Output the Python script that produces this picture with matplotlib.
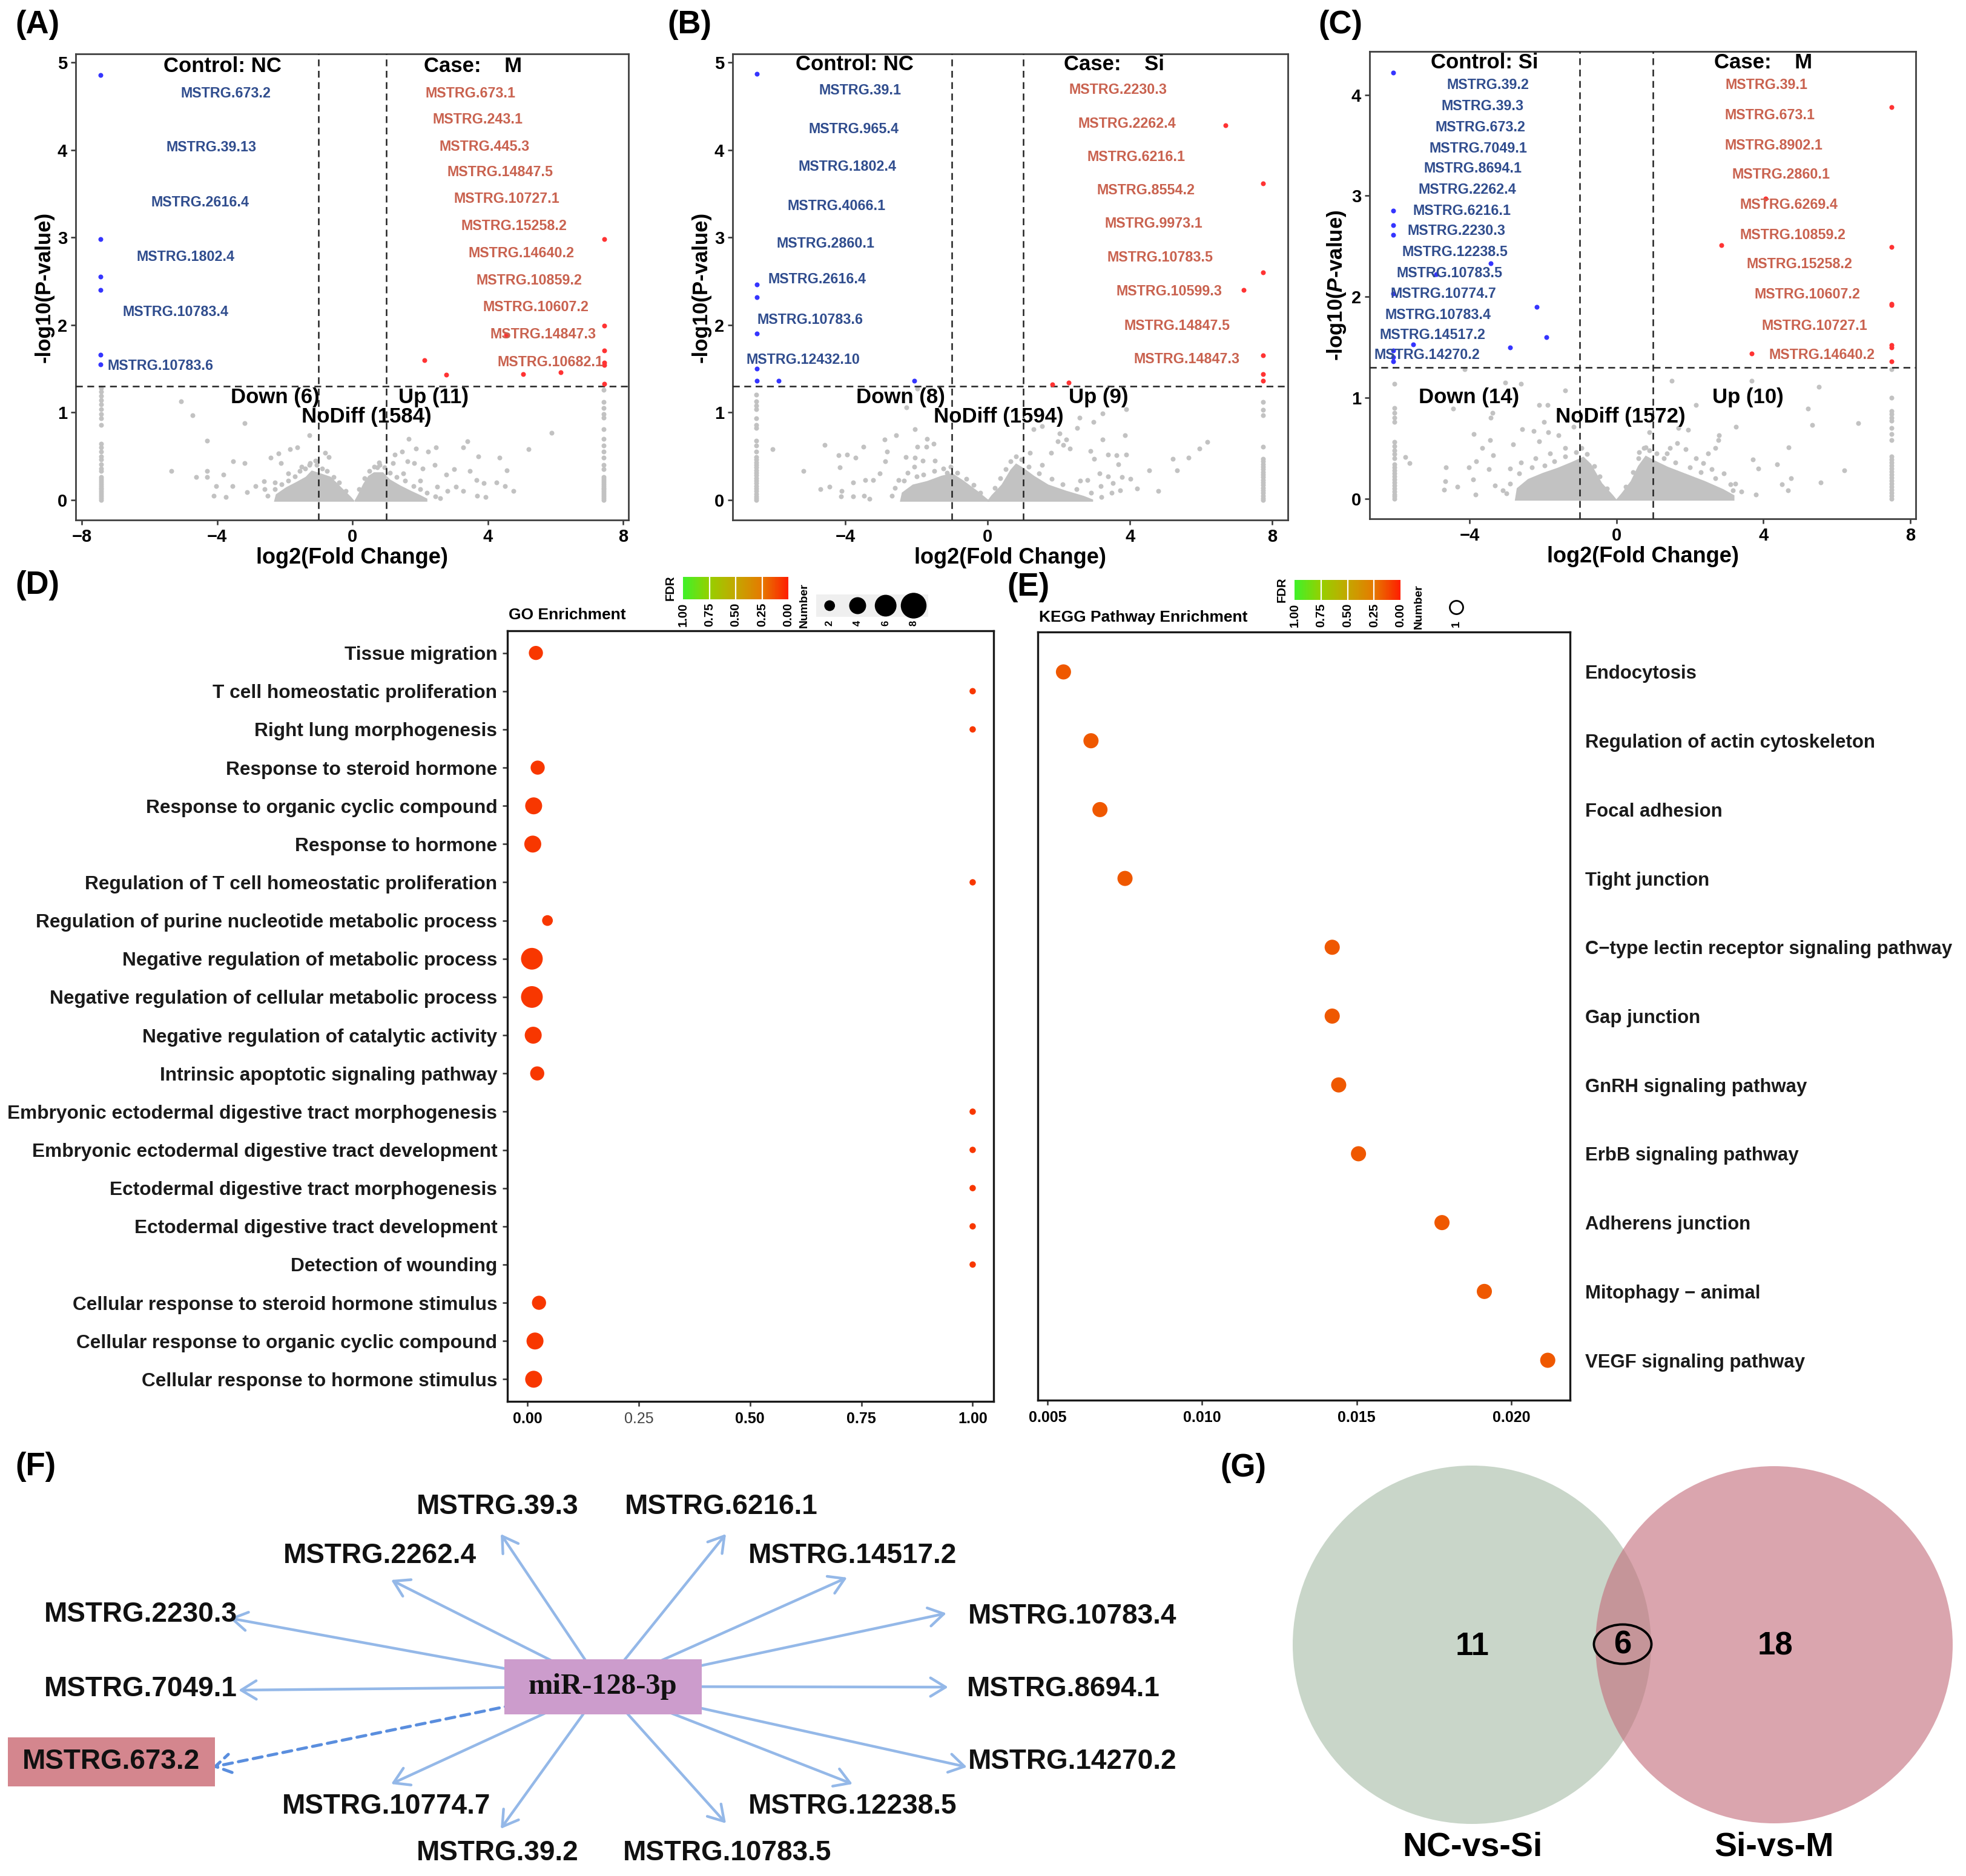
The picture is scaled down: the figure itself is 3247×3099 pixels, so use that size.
import numpy as np
import matplotlib
matplotlib.use('Agg')
import matplotlib.pyplot as plt
from matplotlib.patches import Polygon, Rectangle, Circle, Ellipse, FancyArrowPatch
from matplotlib.colors import LinearSegmentedColormap

# ---------------- data: volcano A (Control NC / Case M) ----------------
a_down = [(-7.45, 4.86), (-7.45, 2.98), (-7.45, 2.55), (-7.45, 2.40), (-7.45, 1.66), (-7.45, 1.55)]
a_up = [(7.45, 2.98), (7.45, 1.99), (7.45, 1.71), (7.45, 1.57), (7.45, 1.54), (7.45, 1.33),
        (2.12, 1.60), (2.78, 1.43), (5.05, 1.44), (6.15, 1.46), (4.55, 1.89)]
a_gray = [(-5.06, 1.13), (-4.72, 0.97), (-3.18, 0.88), (-4.30, 0.68), (-1.27, 0.74), (-5.35, 0.33),
          (-3.52, 0.44), (-3.18, 0.42), (-2.42, 0.48), (-2.18, 0.53), (-1.84, 0.58), (-1.63, 0.60),
          (-0.80, 0.54), (-0.70, 0.49), (-2.11, 0.42), (-4.62, 0.26), (-4.30, 0.33), (-4.30, 0.26),
          (-3.81, 0.29), (-4.03, 0.16), (-4.10, 0.05), (-3.74, 0.03), (-3.54, 0.16), (-3.12, 0.09),
          (-2.87, 0.16), (-2.61, 0.21), (-1.27, 0.40), (-2.6, 0.12), (-2.3, 0.20), (-1.9, 0.30),
          (-1.5, 0.38), (-1.1, 0.45), (1.67, 0.70), (3.40, 0.67), (3.27, 0.60), (2.47, 0.60),
          (1.88, 0.59), (2.24, 0.55), (3.73, 0.50), (4.35, 0.48), (5.21, 0.58), (5.88, 0.77),
          (4.56, 0.34), (4.76, 0.10), (4.51, 0.16), (4.25, 0.20), (3.89, 0.19), (3.66, 0.23),
          (3.47, 0.33), (3.01, 0.35), (2.77, 0.29), (2.44, 0.40), (2.08, 0.36), (1.62, 0.44),
          (1.82, 0.42), (1.26, 0.52), (1.46, 0.55), (3.94, 0.03), (3.68, 0.05), (3.27, 0.10),
          (3.06, 0.15), (0.79, 0.43), (0.74, 0.37), (1.2, 0.42), (1.5, 0.30), (2.0, 0.22),
          (2.5, 0.15), (2.8, 0.10),
          (-2.5, 0.05), (-2.3, 0.12), (-2.1, 0.18), (-1.9, 0.22), (-1.7, 0.27), (-1.55, 0.33),
          (-1.4, 0.36), (-1.25, 0.42), (-1.05, 0.40), (-0.9, 0.36), (-0.75, 0.33), (-0.55, 0.26),
          (-0.4, 0.20), (-0.2, 0.10), (0.2, 0.12), (0.35, 0.25), (0.5, 0.33), (0.65, 0.38),
          (0.8, 0.40), (0.95, 0.37), (1.1, 0.31), (1.3, 0.26), (1.55, 0.22), (1.8, 0.16),
          (2.0, 0.12), (2.2, 0.08), (2.45, 0.04), (2.6, 0.02)]
a_col_x = (-7.42, 7.42)
a_col_left = [1.28, 1.24, 1.19, 1.14, 1.09, 1.04, 0.98, 0.93, 0.86, 0.64, 0.60, 0.55, 0.50, 0.46, 0.41,
              0.36, 0.33, 0.26, 0.24, 0.22, 0.20, 0.18, 0.16, 0.14, 0.12, 0.10, 0.08, 0.06, 0.04, 0.02, 0.0]
a_col_right = [1.26, 1.12, 1.05, 0.98, 0.94, 0.81, 0.70, 0.62, 0.55, 0.48, 0.40, 0.35, 0.26, 0.24, 0.22,
               0.20, 0.18, 0.16, 0.14, 0.12, 0.10, 0.08, 0.06, 0.04, 0.02, 0.0]
a_core_left = [(-2.30, -0.015), (-2.25, 0.06), (-1.95, 0.14), (-1.65, 0.20), (-1.37, 0.26), (-1.2, 0.33),
               (-0.96, 0.30), (-0.65, 0.26), (-0.34, 0.14), (-0.05, 0.03), (0.05, -0.015)]
a_core_right = [(0.07, -0.015), (0.18, 0.06), (0.33, 0.18), (0.48, 0.27), (0.64, 0.31), (0.90, 0.31),
                (1.10, 0.23), (1.41, 0.16), (1.72, 0.10), (2.0, 0.05), (2.2, 0.01), (2.2, -0.015)]
a_down_names = ['MSTRG.673.2', 'MSTRG.39.13', 'MSTRG.2616.4', 'MSTRG.1802.4', 'MSTRG.10783.4', 'MSTRG.10783.6']
a_down_lab = [(-3.75, 4.65), (-4.18, 4.03), (-4.50, 3.40), (-4.93, 2.78), (-5.23, 2.15), (-5.67, 1.53)]
a_up_names = ['MSTRG.673.1', 'MSTRG.243.1', 'MSTRG.445.3', 'MSTRG.14847.5', 'MSTRG.10727.1', 'MSTRG.15258.2',
              'MSTRG.14640.2', 'MSTRG.10859.2', 'MSTRG.10607.2', 'MSTRG.14847.3', 'MSTRG.10682.1']
a_up_lab = [(3.49, 4.65), (3.70, 4.35), (3.91, 4.04), (4.36, 3.75), (4.56, 3.44), (4.78, 3.13),
            (5.00, 2.82), (5.22, 2.51), (5.42, 2.20), (5.64, 1.89), (5.85, 1.57)]
a_groups = ('NC', 'M')
a_counts = [6, 11, 1584]

# ---------------- data: volcano B (Control NC / Case Si) ----------------
b_down = [(-6.49, 4.87), (-6.49, 2.46), (-6.49, 2.32), (-6.49, 1.90), (-6.49, 1.50), (-6.49, 1.36),
          (-5.88, 1.36), (-2.07, 1.36)]
b_up = [(7.74, 3.62), (7.74, 2.60), (7.74, 1.65), (7.74, 1.44), (7.74, 1.36), (6.68, 4.28),
        (7.20, 2.40), (1.81, 1.32), (2.27, 1.34)]
b_gray = [(-1.98, 1.27), (-2.28, 1.06), (-2.04, 0.81), (-2.57, 0.74), (-2.90, 0.69), (-1.70, 0.70),
          (-4.58, 0.63), (-6.04, 0.58), (-3.50, 0.61), (-2.83, 0.55), (-1.98, 0.61), (-1.72, 0.61),
          (-1.52, 0.64), (-4.19, 0.51), (-3.95, 0.52), (-3.71, 0.48), (-4.15, 0.37), (-5.17, 0.33),
          (-2.30, 0.49), (-2.04, 0.48), (-1.82, 0.45), (-1.48, 0.45), (-2.88, 0.44), (-2.06, 0.38),
          (-3.03, 0.30), (-3.45, 0.23), (-3.22, 0.23), (-3.78, 0.20), (-4.44, 0.15), (-4.70, 0.12),
          (-4.10, 0.10), (-4.12, 0.04), (-3.78, 0.04), (-3.47, 0.05), (-3.32, 0.01), (-2.25, 0.31),
          (-2.50, 0.23), (-1.14, 0.31), (3.23, 0.99), (2.97, 0.89), (2.58, 0.94), (2.52, 0.82),
          (2.02, 0.76), (1.29, 0.81), (1.53, 0.84), (3.89, 1.04), (3.86, 0.74), (3.23, 0.69),
          (2.21, 0.69), (1.97, 0.67), (2.89, 0.56), (3.38, 0.52), (3.62, 0.51), (3.89, 0.52),
          (3.67, 0.41), (2.99, 0.47), (4.54, 0.34), (5.20, 0.47), (5.64, 0.48), (5.32, 0.34),
          (5.95, 0.59), (6.17, 0.66), (4.79, 0.10), (4.20, 0.13), (3.77, 0.26), (4.01, 0.24),
          (3.38, 0.27), (3.14, 0.30), (3.52, 0.19), (3.72, 0.11), (2.60, 0.22), (2.80, 0.23),
          (3.18, 0.16), (3.48, 0.08), (2.12, 0.63), (2.31, 0.59), (1.78, 0.54), (1.53, 0.40),
          (1.19, 0.54),
          (-2.7, 0.05), (-2.6, 0.14), (-2.35, 0.22), (-2.0, 0.27), (-1.8, 0.29), (-1.5, 0.33),
          (-1.25, 0.36), (-1.05, 0.38), (-0.85, 0.31), (-0.6, 0.24), (-0.4, 0.17), (-0.2, 0.08),
          (0.2, 0.14), (0.35, 0.25), (0.5, 0.35), (0.65, 0.44), (0.8, 0.50), (0.95, 0.46),
          (1.15, 0.38), (1.45, 0.30), (1.8, 0.24), (2.1, 0.18), (2.5, 0.12), (2.9, 0.08), (3.2, 0.03)]
b_col_x = (-6.50, 7.74)
b_col_left = [1.20, 1.13, 1.08, 1.04, 0.93, 0.86, 0.82, 0.68, 0.62, 0.55, 0.49, 0.46, 0.43, 0.40, 0.37,
              0.34, 0.31, 0.28, 0.25, 0.22, 0.19, 0.16, 0.13, 0.10, 0.07, 0.04, 0.02, 0.0]
b_col_right = [1.12, 1.03, 0.97, 0.61, 0.47, 0.44, 0.41, 0.38, 0.35, 0.32, 0.29, 0.26, 0.23, 0.20, 0.17,
               0.14, 0.11, 0.08, 0.05, 0.02, 0.0]
b_core_left = [(-2.45, -0.015), (-2.4, 0.08), (-2.1, 0.17), (-1.7, 0.21), (-1.3, 0.27), (-1.0, 0.30),
               (-0.7, 0.22), (-0.3, 0.10), (0.0, 0.0), (0.05, -0.015)]
b_core_right = [(0.0, -0.015), (0.12, 0.05), (0.4, 0.17), (0.65, 0.34), (0.8, 0.41), (1.0, 0.36),
                (1.3, 0.27), (1.7, 0.17), (2.2, 0.10), (2.7, 0.04), (2.95, 0.0), (2.95, -0.015)]
b_down_names = ['MSTRG.39.1', 'MSTRG.965.4', 'MSTRG.1802.4', 'MSTRG.4066.1', 'MSTRG.2860.1', 'MSTRG.2616.4',
                'MSTRG.10783.6', 'MSTRG.12432.10']
b_down_lab = [(-3.59, 4.68), (-3.77, 4.24), (-3.94, 3.81), (-4.25, 3.36), (-4.55, 2.93), (-4.80, 2.52),
              (-4.99, 2.06), (-5.18, 1.60)]
b_up_names = ['MSTRG.2230.3', 'MSTRG.2262.4', 'MSTRG.6216.1', 'MSTRG.8554.2', 'MSTRG.9973.1', 'MSTRG.10783.5',
              'MSTRG.10599.3', 'MSTRG.14847.5', 'MSTRG.14847.3']
b_up_lab = [(3.66, 4.69), (3.92, 4.30), (4.17, 3.92), (4.44, 3.54), (4.67, 3.16), (4.84, 2.77),
            (5.10, 2.38), (5.33, 1.99), (5.59, 1.61)]
b_groups = ('NC', 'Si')
b_counts = [8, 9, 1594]

# ---------------- data: volcano C (Control Si / Case M) ----------------
c_down = [(-6.07, 4.22), (-6.07, 2.85), (-6.07, 2.71), (-6.07, 2.61), (-6.07, 2.03), (-6.07, 1.40),
          (-6.07, 1.36), (-3.43, 2.33), (-4.91, 2.22), (-2.17, 1.90), (-1.91, 1.60), (-5.54, 1.53),
          (-2.89, 1.50), (-6.07, 1.47)]
c_up = [(7.49, 3.88), (7.49, 2.49), (7.49, 1.93), (7.49, 1.92), (7.49, 1.52), (7.49, 1.50), (7.49, 1.36),
        (2.86, 2.51), (3.69, 1.44), (4.06, 2.97)]
c_gray = [(-4.14, 1.28), (-3.02, 1.15), (-2.60, 1.14), (-1.40, 1.07), (-2.10, 0.93), (-1.88, 0.93),
          (-4.44, 0.89), (-3.38, 0.85), (-3.42, 0.80), (-1.98, 0.76), (-1.17, 0.71), (-2.57, 0.69),
          (-2.26, 0.67), (-1.86, 0.66), (-3.88, 0.64), (-1.57, 0.63), (-3.44, 0.58), (-3.66, 0.50),
          (-2.81, 0.54), (-2.10, 0.57), (-5.75, 0.41), (-5.63, 0.35), (-3.36, 0.43), (-3.82, 0.37),
          (-4.64, 0.31), (-4.01, 0.31), (-3.47, 0.29), (-4.66, 0.17), (-4.69, 0.09), (-4.33, 0.12),
          (-3.90, 0.19), (-3.83, 0.04), (-3.30, 0.13), (-3.09, 0.08), (-2.9, 0.30), (-2.6, 0.36),
          (-2.2, 0.40), (-1.8, 0.45), (-1.4, 0.50), (1.51, 1.17), (3.69, 1.17), (5.51, 1.11),
          (2.17, 0.93), (5.21, 0.89), (5.33, 0.73), (6.58, 0.75), (3.26, 0.71), (1.68, 0.70),
          (1.95, 0.68), (0.89, 0.66), (2.79, 0.63), (2.77, 0.58), (1.65, 0.55), (1.89, 0.49),
          (2.69, 0.50), (4.69, 0.51), (3.72, 0.39), (3.86, 0.30), (4.37, 0.34), (6.20, 0.28),
          (4.76, 0.20), (5.56, 0.16), (4.50, 0.14), (4.67, 0.08), (3.79, 0.04), (2.49, 0.45),
          (2.17, 0.40), (2.36, 0.35), (2.60, 0.29), (2.93, 0.25), (3.24, 0.15), (3.17, 0.08),
          (1.46, 0.50), (1.37, 0.45), (0.61, 0.46), (0.80, 0.51),
          (-3.0, 0.05), (-2.9, 0.15), (-2.65, 0.25), (-2.3, 0.31), (-1.95, 0.33), (-1.7, 0.37),
          (-1.4, 0.42), (-1.1, 0.46), (-0.95, 0.50), (-0.8, 0.44), (-0.6, 0.32), (-0.45, 0.22),
          (-0.25, 0.10), (0.25, 0.12), (0.45, 0.26), (0.6, 0.40), (0.75, 0.50), (0.9, 0.48),
          (1.1, 0.45), (1.3, 0.40), (1.6, 0.36), (2.0, 0.31), (2.3, 0.26), (2.7, 0.20), (3.1, 0.14),
          (3.4, 0.07)]
c_col_x = (-6.05, 7.49)
c_col_left = [1.14, 0.90, 0.85, 0.80, 0.76, 0.56, 0.52, 0.48, 0.44, 0.40, 0.34, 0.31, 0.28, 0.25, 0.22,
              0.19, 0.16, 0.13, 0.10, 0.07, 0.04, 0.02, 0.0]
c_col_right = [1.28, 1.00, 0.87, 0.84, 0.80, 0.77, 0.70, 0.64, 0.58, 0.42, 0.39, 0.36, 0.33, 0.30, 0.27,
               0.24, 0.21, 0.18, 0.15, 0.12, 0.09, 0.06, 0.03, 0.0]
c_core_left = [(-2.75, -0.015), (-2.7, 0.10), (-2.4, 0.19), (-2.0, 0.25), (-1.6, 0.30), (-1.2, 0.36),
               (-0.9, 0.41), (-0.7, 0.34), (-0.4, 0.15), (-0.1, 0.03), (0.0, -0.015)]
c_core_right = [(0.0, -0.015), (0.15, 0.05), (0.4, 0.17), (0.6, 0.32), (0.8, 0.42), (1.0, 0.38),
                (1.4, 0.31), (1.9, 0.24), (2.4, 0.17), (2.9, 0.09), (3.2, 0.03), (3.2, -0.015)]
c_down_names = ['MSTRG.39.2', 'MSTRG.39.3', 'MSTRG.673.2', 'MSTRG.7049.1', 'MSTRG.8694.1', 'MSTRG.2262.4',
                'MSTRG.6216.1', 'MSTRG.2230.3', 'MSTRG.12238.5', 'MSTRG.10783.5', 'MSTRG.10774.7',
                'MSTRG.10783.4', 'MSTRG.14517.2', 'MSTRG.14270.2']
c_down_lab = [(-3.49, 4.10), (-3.65, 3.89), (-3.70, 3.68), (-3.76, 3.47), (-3.91, 3.27), (-4.06, 3.06),
              (-4.21, 2.85), (-4.35, 2.65), (-4.40, 2.44), (-4.55, 2.23), (-4.71, 2.03), (-4.86, 1.82),
              (-5.01, 1.62), (-5.15, 1.42)]
c_up_names = ['MSTRG.39.1', 'MSTRG.673.1', 'MSTRG.8902.1', 'MSTRG.2860.1', 'MSTRG.6269.4', 'MSTRG.10859.2',
              'MSTRG.15258.2', 'MSTRG.10607.2', 'MSTRG.10727.1', 'MSTRG.14640.2']
c_up_lab = [(4.09, 4.10), (4.18, 3.80), (4.29, 3.50), (4.49, 3.21), (4.70, 2.91), (4.80, 2.61),
            (4.99, 2.32), (5.20, 2.02), (5.39, 1.71), (5.60, 1.42)]
c_groups = ('Si', 'M')
c_counts = [14, 10, 1572]

# ---------------- data: GO enrichment (D) ----------------
go_terms = ['Tissue migration', 'T cell homeostatic proliferation', 'Right lung morphogenesis',
            'Response to steroid hormone', 'Response to organic cyclic compound', 'Response to hormone',
            'Regulation of T cell homeostatic proliferation', 'Regulation of purine nucleotide metabolic process',
            'Negative regulation of metabolic process', 'Negative regulation of cellular metabolic process',
            'Negative regulation of catalytic activity', 'Intrinsic apoptotic signaling pathway',
            'Embryonic ectodermal digestive tract morphogenesis', 'Embryonic ectodermal digestive tract development',
            'Ectodermal digestive tract morphogenesis', 'Ectodermal digestive tract development',
            'Detection of wounding', 'Cellular response to steroid hormone stimulus',
            'Cellular response to organic cyclic compound', 'Cellular response to hormone stimulus']
go_x = [0.019, 1.0, 1.0, 0.023, 0.014, 0.012, 1.0, 0.045, 0.010, 0.010,
        0.013, 0.022, 1.0, 1.0, 1.0, 1.0, 1.0, 0.026, 0.017, 0.014]
go_number = [3, 1, 1, 3, 4, 4, 1, 2, 6, 6, 4, 3, 1, 1, 1, 1, 1, 3, 4, 4]
go_fdr = [0.07] * 20
go_legend_numbers = [2, 4, 6, 8]

# ---------------- data: KEGG enrichment (E) ----------------
kegg_terms = ['Endocytosis', 'Regulation of actin cytoskeleton', 'Focal adhesion', 'Tight junction',
              'C\u2212type lectin receptor signaling pathway', 'Gap junction', 'GnRH signaling pathway',
              'ErbB signaling pathway', 'Adherens junction', 'Mitophagy \u2212 animal', 'VEGF signaling pathway']
kegg_x = [0.00552, 0.00641, 0.00670, 0.00751, 0.01421, 0.01421, 0.01442, 0.01506, 0.01776, 0.01913, 0.02118]
kegg_number = [1] * 11
kegg_fdr = [0.16] * 11
fdr_ticks = [1.00, 0.75, 0.50, 0.25, 0.00]

# ---------------- data: miRNA target network (F) ----------------
hub_name = 'miR-128-3p'
hub_xy = (996, 436)
targets = ['MSTRG.39.3', 'MSTRG.6216.1', 'MSTRG.2262.4', 'MSTRG.14517.2', 'MSTRG.2230.3', 'MSTRG.10783.4',
           'MSTRG.7049.1', 'MSTRG.8694.1', 'MSTRG.673.2', 'MSTRG.14270.2', 'MSTRG.10774.7', 'MSTRG.12238.5',
           'MSTRG.39.2', 'MSTRG.10783.5']
target_xy = [(822, 139), (1191, 139), (627, 220), (1408, 220), (232, 317), (1771, 320), (232, 440),
             (1756, 440), (184, 560), (1771, 560), (638, 634), (1408, 634), (822, 711), (1201, 711)]
target_tip = [(827, 184), (1199, 184), (646, 260), (1399, 256), (379, 323), (1563, 315), (394, 442),
              (1566, 437), (351, 569), (1597, 569), (646, 597), (1408, 597), (827, 671), (1199, 662)]
target_dashed = ['MSTRG.673.2']

# ---------------- data: Venn (G) ----------------
venn_names = ['NC-vs-Si', 'Si-vs-M']
venn_counts = [11, 6, 18]   # only left, shared, only right

# ---------------- style ----------------
W, H = 3247, 3099
DPI = 200
GRAY = '#c2c2c2'
BLUE = '#3535ff'
RED = '#ff3333'
BLUE_TXT = '#304d8e'
RED_TXT = '#c9624f'

plt.rcParams['font.family'] = ['Liberation Sans', 'DejaVu Sans']
plt.rcParams['font.weight'] = 'bold'
plt.rcParams['axes.labelweight'] = 'bold'
plt.rcParams['mathtext.fontset'] = 'custom'
plt.rcParams['mathtext.it'] = 'Liberation Sans:italic:bold'
plt.rcParams['mathtext.rm'] = 'Liberation Sans:bold'

fdr_cmap = LinearSegmentedColormap.from_list(
    'fdr', [(0, '#ff1e00'), (0.25, '#e67a00'), (0.5, '#c4a800'), (0.75, '#96d000'), (1, '#3ff22a')])


def rect(l, t, r, b):
    # pixel box of the target image -> figure fraction
    return [l / W, 1 - b / H, (r - l) / W, (b - t) / H]


def area(d_px):
    return (d_px * 72.0 / DPI) ** 2


def go_size(n):
    return area(17.5 * np.sqrt(n) - 7)


fig = plt.figure(figsize=(W / DPI, H / DPI), dpi=DPI)


def volcano(box, xlim, ylim, xticks, yticks, gray, col_x, col_left, col_right, core_left, core_right,
            down, up, down_names, down_lab, up_names, up_lab, groups, counts, head_xy, count_xy, ylabel):
    ax = fig.add_axes(rect(*box))
    for core in (core_left, core_right):
        ax.add_patch(Polygon(core, closed=True, fc=GRAY, ec=GRAY, lw=0.6, zorder=2))
    gx, gy = zip(*gray)
    ax.scatter(gx, gy, s=area(8), c=GRAY, lw=0, zorder=2)
    ax.scatter([col_x[0]] * len(col_left), col_left, s=area(8), c=GRAY, lw=0, zorder=2)
    ax.scatter([col_x[1]] * len(col_right), col_right, s=area(8), c=GRAY, lw=0, zorder=2)
    dx, dy = zip(*down)
    ax.scatter(dx, dy, s=area(8), c=BLUE, lw=0, zorder=4)
    ux, uy = zip(*up)
    ax.scatter(ux, uy, s=area(8), c=RED, lw=0, zorder=4)
    for v in (-1, 1):
        ax.axvline(v, color='#222222', lw=0.9, dashes=(4.5, 3), zorder=3)
    ax.axhline(-np.log10(0.05), color='#222222', lw=0.9, dashes=(4.5, 3), zorder=3)
    for name, (x, y) in zip(down_names, down_lab):
        ax.text(x, y, name, color=BLUE_TXT, fontsize=8.4, ha='center', va='center', zorder=5)
    for name, (x, y) in zip(up_names, up_lab):
        ax.text(x, y, name, color=RED_TXT, fontsize=8.4, ha='center', va='center', zorder=5)
    ax.text(head_xy[0], head_xy[2], 'Control: ' + groups[0], fontsize=12.5, ha='center', va='center')
    ax.text(head_xy[1], head_xy[2], 'Case:    ' + groups[1], fontsize=12.5, ha='center', va='center')
    ax.text(count_xy[0][0], count_xy[0][1], 'Down (%d)' % counts[0], fontsize=12.5, ha='center', va='center', zorder=5)
    ax.text(count_xy[1][0], count_xy[1][1], 'Up (%d)' % counts[1], fontsize=12.5, ha='center', va='center', zorder=5)
    ax.text(count_xy[2][0], count_xy[2][1], 'NoDiff (%d)' % counts[2], fontsize=12.5, ha='center', va='center', zorder=5)
    ax.set_xlim(*xlim)
    ax.set_ylim(*ylim)
    ax.set_xticks(xticks)
    ax.set_yticks(yticks)
    ax.tick_params(labelsize=10.5, length=3, width=0.9, color='#333333', pad=2)
    for s in ax.spines.values():
        s.set_color('#404040')
        s.set_linewidth(1.0)
    ax.set_xlabel('log2(Fold Change)', fontsize=13, labelpad=1)
    ax.set_ylabel(ylabel, fontsize=12.5, labelpad=2)
    return ax


volcano((125, 89, 1038, 859), (-8.18, 8.16), (-0.23, 5.1), [-8, -4, 0, 4, 8], range(6),
        a_gray, a_col_x, a_col_left, a_col_right, a_core_left, a_core_right, a_down, a_up,
        a_down_names, a_down_lab, a_up_names, a_up_lab, a_groups, a_counts,
        (-3.84, 3.57, 4.96), [(-2.28, 1.17), (2.40, 1.17), (0.42, 0.95)], '-log10(P-value)')
volcano((1210, 89, 2127, 859), (-7.17, 8.44), (-0.23, 5.1), [-4, 0, 4, 8], range(6),
        b_gray, b_col_x, b_col_left, b_col_right, b_core_left, b_core_right, b_down, b_up,
        b_down_names, b_down_lab, b_up_names, b_up_lab, b_groups, b_counts,
        (-3.74, 3.55, 4.98), [(-2.44, 1.17), (3.11, 1.17), (0.30, 0.95)], '-log10(P-value)')
volcano((2262, 85, 3164, 857), (-6.72, 8.15), (-0.20, 4.43), [-4, 0, 4, 8], range(5),
        c_gray, c_col_x, c_col_left, c_col_right, c_core_left, c_core_right, c_down, c_up,
        c_down_names, c_down_lab, c_up_names, c_up_lab, c_groups, c_counts,
        (-3.59, 4.0, 4.32), [(-4.02, 1.0), (3.58, 1.0), (0.11, 0.81)], '-log10($\\mathit{P}$-value)')

# ---------------- D: GO enrichment ----------------
axd = fig.add_axes(rect(838, 1042, 1641, 2315))
axd.scatter(go_x, range(len(go_terms)), s=[go_size(n) for n in go_number], c=go_fdr,
            cmap=fdr_cmap, vmin=0, vmax=1, lw=0, zorder=3, clip_on=False)
axd.set_ylim(len(go_terms) - 0.42, -0.58)
axd.set_yticks(range(len(go_terms)))
axd.set_yticklabels(go_terms, fontsize=11.4, color='#1a1a1a')
axd.set_xlim(-0.045, 1.047)
axd.set_xticks([0, 0.25, 0.5, 0.75, 1.0])
axd.set_xticklabels(['0.00', '0.25', '0.50', '0.75', '1.00'], fontsize=9)
axd.get_xticklabels()[1].set_fontweight('normal')
axd.get_xticklabels()[1].set_color('#444444')
axd.tick_params(length=3, width=0.9, color='#333333', pad=3)
for s in axd.spines.values():
    s.set_color('#1a1a1a')
    s.set_linewidth(1.2)

fig.text(840 / W, 1 - 1016 / H, 'GO Enrichment', fontsize=9.5, ha='left', va='center')

# FDR colour bars (D and E)
for cbox in ((1128, 953, 1302, 990), (2138, 958, 2313, 991)):
    cb = fig.add_axes(rect(*cbox))
    cb.imshow(np.linspace(0, 1, 256)[None, :], extent=[0, 1, 0, 1], aspect='auto', cmap=fdr_cmap)
    cb.set_xlim(1, 0)
    for t in (0.25, 0.5, 0.75):
        cb.axvline(t, color='white', lw=0.8)
    cb.set_xticks(fdr_ticks)
    cb.set_xticklabels(['%.2f' % t for t in fdr_ticks], rotation=90, fontsize=7.3)
    cb.set_yticks([])
    cb.tick_params(length=0, pad=2)
    for s in cb.spines.values():
        s.set_visible(False)
    cb.set_ylabel('FDR', fontsize=7.3, labelpad=4)

# size legend (D)
sl = fig.add_axes(rect(1348, 982, 1533, 1019))
sl.set_facecolor('#efefef')
sl.scatter(range(len(go_legend_numbers)), [0] * len(go_legend_numbers),
           s=[go_size(n) for n in go_legend_numbers], c='black', lw=0, clip_on=False)
sl.set_xlim(-0.48, 3.52)
sl.set_ylim(-1, 1)
sl.set_xticks(range(len(go_legend_numbers)))
sl.set_xticklabels([str(n) for n in go_legend_numbers], rotation=90, fontsize=6)
sl.set_yticks([])
sl.tick_params(length=0, pad=2)
for s in sl.spines.values():
    s.set_visible(False)
sl.set_ylabel('Number', fontsize=7, labelpad=4)

# ---------------- E: KEGG enrichment ----------------
axe = fig.add_axes(rect(1714, 1044, 2593, 2313))
axe.scatter(kegg_x, range(len(kegg_terms)), s=area(25), c=kegg_fdr, cmap=fdr_cmap,
            vmin=0, vmax=1, lw=0, zorder=3)
axe.set_ylim(len(kegg_terms) - 0.42, -0.58)
axe.yaxis.tick_right()
axe.set_yticks(range(len(kegg_terms)))
axe.set_yticklabels(kegg_terms, fontsize=11.2, color='#1a1a1a')
axe.tick_params(axis='y', length=0, pad=9)
axe.set_xlim(0.00469, 0.0219)
axe.set_xticks([0.005, 0.010, 0.015, 0.020])
axe.set_xticklabels(['0.005', '0.010', '0.015', '0.020'], fontsize=9)
axe.tick_params(axis='x', length=3, width=0.9, color='#333333', pad=3)
for s in axe.spines.values():
    s.set_color('#1a1a1a')
    s.set_linewidth(1.2)

fig.text(1716 / W, 1 - 1020 / H, 'KEGG Pathway Enrichment', fontsize=9.5, ha='left', va='center')

kl = fig.add_axes(rect(2385, 985, 2425, 1020))
kl.scatter([0], [0], s=area(22), facecolor='white', edgecolor='black', lw=1.0, clip_on=False)
kl.set_xlim(-1, 1)
kl.set_ylim(-1, 1)
kl.set_xticks([0])
kl.set_xticklabels([str(kegg_number[0])], rotation=90, fontsize=7)
kl.set_yticks([])
kl.tick_params(length=0, pad=2)
for s in kl.spines.values():
    s.set_visible(False)
kl.patch.set_alpha(0)
kl.set_ylabel('Number', fontsize=7, labelpad=12)

# ---------------- F: network ----------------
axf = fig.add_axes(rect(0, 2350, 1980, 3099))
axf.set_xlim(0, 1980)
axf.set_ylim(749, 0)
axf.axis('off')
for name, (tx, ty), tip in zip(targets, target_xy, target_tip):
    dashed = name in target_dashed
    arr = FancyArrowPatch(hub_xy, tip, arrowstyle='->,head_length=9,head_width=5.5', mutation_scale=1,
                          shrinkA=0, shrinkB=0, lw=1.8 if dashed else 1.6,
                          color='#5a8ede' if dashed else '#94b8e8',
                          linestyle=(0, (3, 2)) if dashed else '-', zorder=1)
    axf.add_patch(arr)
    if dashed:
        axf.add_patch(Rectangle((tx - 171, ty - 40), 342, 81, fc='#d4868e', ec='none', zorder=2))
    axf.text(tx, ty, name, fontsize=16.5, ha='center', va='center', color='#111111', zorder=4)
axf.add_patch(Rectangle((hub_xy[0] - 163, hub_xy[1] - 45), 326, 91, fc='#cc9ccc', ec='none', zorder=3))
axf.text(hub_xy[0], hub_xy[1], hub_name, fontsize=17.5, ha='center', va='center', fontweight='bold',
         family=['Liberation Serif', 'DejaVu Serif'], color='#111111', zorder=4)

# ---------------- G: Venn ----------------
axg = fig.add_axes(rect(1980, 2350, 3247, 3099))
axg.set_xlim(0, 1267)
axg.set_ylim(749, 0)
axg.axis('off')
axg.add_patch(Circle((451, 367), 296, fc='#c9d6c9', ec='none', zorder=1))
axg.add_patch(Circle((950, 367), 295, fc='#c46e7c', alpha=0.62, ec='none', zorder=2))
axg.text(452, 370, str(venn_counts[0]), fontsize=19, ha='center', va='center', zorder=3)
axg.text(700, 368, str(venn_counts[1]), fontsize=19, ha='center', va='center', zorder=3)
axg.text(952, 370, str(venn_counts[2]), fontsize=19, ha='center', va='center', zorder=3)
axg.add_patch(Ellipse((700, 366), 95, 65, fc='none', ec='black', lw=1.4, zorder=3))
axg.text(452, 702, venn_names[0], fontsize=20, ha='center', va='center')
axg.text(950, 702, venn_names[1], fontsize=20, ha='center', va='center')

# ---------------- panel letters ----------------
for lab, x, y in [('(A)', 25, 41), ('(B)', 1102, 41), ('(C)', 2177, 41), ('(D)', 25, 967),
                  ('(E)', 1663, 970), ('(F)', 25, 2423), ('(G)', 2015, 2425)]:
    fig.text(x / W, 1 - y / H, lab, fontsize=19, ha='left', va='center')

fig.savefig('out.png', dpi=DPI)
